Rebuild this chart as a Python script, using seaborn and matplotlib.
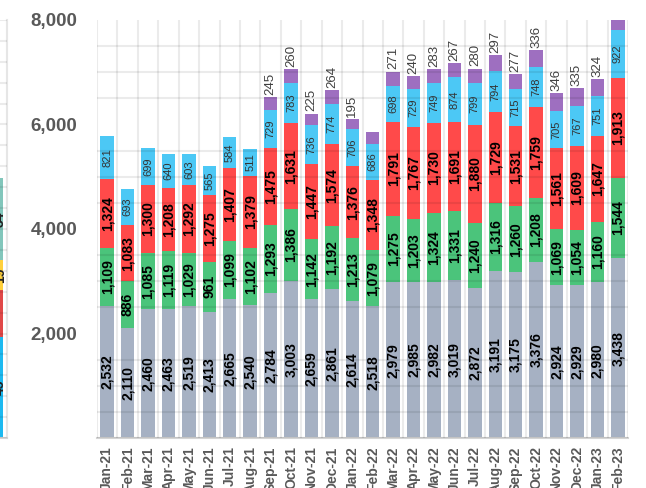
import numpy as np
import pandas as pd
import matplotlib
matplotlib.use('Agg')
import matplotlib.pyplot as plt
import seaborn as sns

# 数据
months = ['Jan-21', 'Feb-21', 'Mar-21', 'Apr-21', 'May-21', 'Jun-21', 'Jul-21', 'Aug-21',
          'Sep-21', 'Oct-21', 'Nov-21', 'Dec-21', 'Jan-22', 'Feb-22', 'Mar-22', 'Apr-22',
          'May-22', 'Jun-22', 'Jul-22', 'Aug-22', 'Sep-22', 'Oct-22', 'Nov-22', 'Dec-22',
          'Jan-23', 'Feb-23']
base = [2532, 2110, 2460, 2463, 2519, 2413, 2665, 2540, 2784, 3003, 2659, 2861, 2614,
        2518, 2979, 2985, 2982, 3019, 2872, 3191, 3175, 3376, 2924, 2929, 2980, 3438]
green = [1109, 886, 1085, 1119, 1029, 961, 1099, 1102, 1293, 1386, 1142, 1192, 1213,
         1079, 1275, 1203, 1324, 1331, 1240, 1316, 1260, 1208, 1069, 1054, 1160, 1544]
red = [1324, 1083, 1300, 1208, 1292, 1275, 1407, 1379, 1475, 1631, 1447, 1574, 1376,
       1348, 1791, 1767, 1730, 1691, 1880, 1729, 1531, 1759, 1561, 1609, 1647, 1913]
lblue = [821, 693, 699, 640, 603, 565, 584, 511, 729, 783, 736, 774, 706,
         686, 698, 729, 749, 874, 799, 794, 715, 748, 705, 767, 751, 922]
purple = [0, 0, 0, 0, 0, 0, 0, 0, 245, 260, 225, 264, 195,
          230, 271, 240, 283, 267, 280, 297, 277, 336, 346, 335, 324, 350]
# 紫色标签（部分没有显示）
purple_show = [False] * 8 + [True] * 5 + [False] + [True] * 11 + [False]

# 左边被裁掉的另一张图的一部分
nb_vals = [4.83, 2.25, 1.44, 3.92]
nb_cols = ['#1cb9f0', '#e04848', '#ffd03c', '#82c6bb']
nb_text = ['45', '', '19', '34']

layers = [('base', base, '#a6b1c3'), ('green', green, '#4bc47b'),
          ('red', red, '#ff4a4a'), ('lblue', lblue, '#4cc8f5'),
          ('purple', purple, '#9e6fc0')]

df = pd.DataFrame({'month': months, 'base': base, 'green': green, 'red': red,
                   'lblue': lblue, 'purple': purple})

sns.set_style('white')
plt.rcParams['font.family'] = ['Liberation Sans', 'DejaVu Sans']

fig = plt.figure(figsize=(6.46, 4.88), dpi=100)
ax = fig.add_axes([97 / 646, 50 / 488, 531 / 646, 418 / 488])

bottom = np.zeros(len(months))
for name, vals, col in layers:
    sns.barplot(data=df, x='month', y=name, color=col, saturation=1, width=0.66,
                errorbar=None, bottom=bottom.copy(), ax=ax, linewidth=0)
    vals = np.array(vals, dtype=float)
    for i, v in enumerate(vals):
        if v <= 0:
            continue
        if name in ('base', 'green', 'red'):
            ax.text(i, bottom[i] + v / 2, f'{int(v):,}', rotation=90, ha='center',
                    va='center', fontsize=10, fontweight='bold', color='black',
                    clip_on=True)
        elif name == 'lblue':
            ax.text(i, bottom[i] + v / 2, f'{int(v):,}', rotation=90, ha='center',
                    va='center', fontsize=8, color='#333333', clip_on=True)
        elif purple_show[i]:
            ax.text(i, bottom[i] + v + 40, f'{int(v):,}', rotation=90, ha='center',
                    va='bottom', fontsize=9.5, color='#404040', clip_on=True)
    bottom += vals

ax.set_xlim(-0.5, len(months) - 0.5)
ax.set_ylim(0, 8000)
ax.set_yticks([2000, 4000, 6000, 8000])
ax.set_yticklabels([f'{t:,}' for t in [2000, 4000, 6000, 8000]])
ax.set_yticks(np.arange(0, 8001, 500), minor=True)
ax.set_xticks(np.arange(-0.5, len(months), 1), minor=True)
ax.grid(False)
ax.grid(which='minor', color='black', alpha=0.08, linewidth=1.5)
ax.set_axisbelow(False)
ax.tick_params(axis='both', which='both', length=0)
ax.tick_params(axis='y', pad=14, labelsize=13.5, labelcolor='#595959')
ax.tick_params(axis='x', pad=6, labelsize=10, labelcolor='#595959', rotation=90)
for lab in ax.get_yticklabels() + ax.get_xticklabels():
    lab.set_fontweight('bold')
ax.set_xlabel('')
ax.set_ylabel('')
for s in ['top', 'left', 'right']:
    ax.spines[s].set_visible(False)
ax.spines['bottom'].set_color('#d4d4d4')
ax.spines['bottom'].set_linewidth(1.5)

# 左边残留的图
ax2 = fig.add_axes([0, 50 / 488, 7 / 646, 418 / 488])
ax2.set_xlim(0, 1)
ax2.set_ylim(0, 20)
b = 0
for v, c, t in zip(nb_vals, nb_cols, nb_text):
    ax2.bar(-0.55, v, width=1.0, bottom=b, color=c, align='edge', linewidth=0)
    if t:
        ax2.text(-0.05, b + v / 2, t, rotation=90, ha='center', va='center',
                 fontsize=10, fontweight='bold', color='#222222', clip_on=True)
    b += v
ax2.set_yticks(np.arange(0, 21, 1))
ax2.set_xticks([])
ax2.grid(axis='y', color='black', alpha=0.08, linewidth=1.5)
ax2.set_axisbelow(False)
ax2.tick_params(length=0, labelleft=False)
for s in ['top', 'left']:
    ax2.spines[s].set_visible(False)
ax2.spines['right'].set_color('#e6e6e6')
ax2.spines['right'].set_linewidth(1.5)
ax2.spines['bottom'].set_color('#d4d4d4')
ax2.spines['bottom'].set_linewidth(1.5)

plt.savefig('out.png', dpi=100)
